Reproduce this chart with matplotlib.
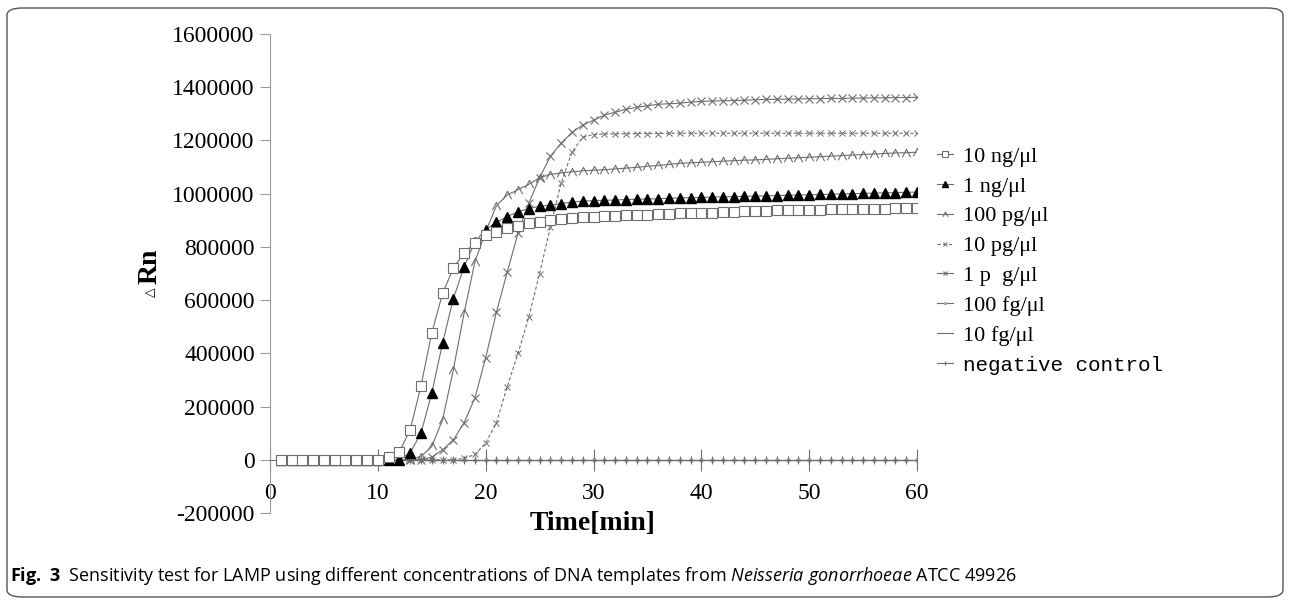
import matplotlib
matplotlib.use("Agg")
import matplotlib.pyplot as plt
from matplotlib.path import Path
from matplotlib.patches import FancyBboxPatch

# time axis (minutes)
TIME = list(range(1, 61))

# delta Rn, one value per minute
NG10 = [0, 0, 0, 0, 0, 0, 0, 0, 0, 0,
        10000, 31000, 112000, 278000, 476000, 625000, 720000, 778000, 814000, 844000,
        856000, 870000, 880000, 889000, 893000, 900000, 903000, 907000, 911000, 913000,
        915000, 917000, 918000, 919000, 921000, 922000, 924000, 926000, 927000, 928000,
        929000, 930000, 931000, 933000, 934000, 935000, 937000, 938000, 939000, 940000,
        940000, 941000, 942000, 943000, 943000, 944000, 944000, 945000, 945000, 946000]
NG1 = [0, 0, 0, 0, 0, 0, 0, 0, 0, 0,
       0, 0, 26000, 100000, 250000, 438000, 605000, 725000, 819000, 865000,
       893000, 914000, 932000, 944000, 953000, 957000, 963000, 968000, 972000, 974000,
       975000, 976000, 978000, 979000, 980000, 981000, 983000, 984000, 985000, 986000,
       987000, 988000, 989000, 990000, 991000, 992000, 993000, 994000, 995000, 996000,
       997000, 998000, 999000, 1000000, 1001000, 1002000, 1003000, 1004000, 1005000, 1006000]
PG100 = [0, 0, 0, 0, 0, 0, 0, 0, 0, 0,
         0, 0, 0, 12000, 50000, 150000, 338000, 551000, 744000, 857000,
         955000, 995000, 1015000, 1035000, 1060000, 1072000, 1078000, 1082000, 1086000, 1088000,
         1090000, 1093000, 1096000, 1099000, 1103000, 1106000, 1110000, 1114000, 1116000, 1118000,
         1120000, 1122000, 1124000, 1126000, 1127000, 1129000, 1131000, 1133000, 1135000, 1137000,
         1139000, 1141000, 1143000, 1145000, 1147000, 1149000, 1151000, 1153000, 1154000, 1156000]
PG10 = [0, 0, 0, 0, 0, 0, 0, 0, 0, 0,
        0, 0, 0, 0, 0, 0, 0, 5000, 20000, 63000,
        139000, 275000, 400000, 537000, 700000, 874000, 1040000, 1156000, 1212000, 1222000,
        1224000, 1225000, 1225000, 1226000, 1226000, 1226000, 1227000, 1227000, 1227000, 1227000,
        1227000, 1227000, 1227000, 1227000, 1227000, 1227000, 1227000, 1227000, 1227000, 1227000,
        1227000, 1227000, 1227000, 1227000, 1227000, 1227000, 1227000, 1227000, 1227000, 1227000]
PG1 = [0, 0, 0, 0, 0, 0, 0, 0, 0, 0,
       0, 0, 0, 0, 10000, 37000, 75000, 139000, 232000, 383000,
       555000, 705000, 852000, 964000, 1060000, 1140000, 1190000, 1230000, 1258000, 1276000,
       1295000, 1306000, 1317000, 1325000, 1330000, 1336000, 1338000, 1340000, 1344000, 1347000,
       1348000, 1349000, 1350000, 1351000, 1353000, 1354000, 1355000, 1355000, 1356000, 1357000,
       1357000, 1358000, 1358000, 1359000, 1359000, 1360000, 1360000, 1361000, 1361000, 1362000]
FG100 = [0, 0, 0, 0, 0, 0, 0, 0, 0, 0, 0, 0, 0, 0, 0, 0, 0, 0, 0, 0,
         0, 0, 0, 0, 0, 0, 0, 0, 0, 0, 0, 0, 0, 0, 0, 0, 0, 0, 0, 0,
         0, 0, 0, 0, 0, 0, 0, 0, 0, 0, 0, 0, 0, 0, 0, 0, 0, 0, 0, 0]
FG10 = [0, 0, 0, 0, 0, 0, 0, 0, 0, 0, 0, 0, 0, 0, 0, 0, 0, 0, 0, 0,
        0, 0, 0, 0, 0, 0, 0, 0, 0, 0, 0, 0, 0, 0, 0, 0, 0, 0, 0, 0,
        0, 0, 0, 0, 0, 0, 0, 0, 0, 0, 0, 0, 0, 0, 0, 0, 0, 0, 0, 0]
NEG = [0, 0, 0, 0, 0, 0, 0, 0, 0, 0, 0, 0, 0, 0, 0, 0, 0, 0, 0, 0,
       0, 0, 0, 0, 0, 0, 0, 0, 0, 0, 0, 0, 0, 0, 0, 0, 0, 0, 0, 0,
       0, 0, 0, 0, 0, 0, 0, 0, 0, 0, 0, 0, 0, 0, 0, 0, 0, 0, 0, 0]

LABELS = ["10 ng/\u03bcl", "1 ng/\u03bcl", "100 pg/\u03bcl", "10 pg/\u03bcl",
          "1 p  g/\u03bcl", "100 fg/\u03bcl", "10 fg/\u03bcl", "negative control"]
X_TICKS = [0, 10, 20, 30, 40, 50, 60]
Y_TICKS = [-200000, 0, 200000, 400000, 600000, 800000, 1000000, 1200000, 1400000, 1600000]

W, H = 1290, 601
plt.rcParams["font.family"] = ["Liberation Serif", "DejaVu Serif"]
plt.rcParams["mathtext.fontset"] = "custom"
plt.rcParams["mathtext.rm"] = "Open Sans"
plt.rcParams["mathtext.it"] = "Open Sans:italic"
plt.rcParams["mathtext.bf"] = "Open Sans:bold"

fig = plt.figure(figsize=(W / 100, H / 100), dpi=100)
ax = fig.add_axes([270 / W, 1 - 513 / H, (917 - 270) / W, (513 - 34) / H])

GRAY = "#6e6e6e"
caret = Path([(-1, -0.9), (0, 1), (1, -0.9)], [Path.MOVETO, Path.LINETO, Path.LINETO])
kw = dict(color=GRAY, lw=0.8)

ax.plot(TIME, FG100, marker="o", ms=2.5, mfc="white", mec=GRAY, mew=0.5,
        label=LABELS[5], zorder=2, **kw)
ax.plot(TIME, FG10, label=LABELS[6], zorder=2, **kw)
ax.plot(TIME, NEG, marker="|", ms=6, mew=0.8, label=LABELS[7], zorder=2, **kw)
ax.plot(TIME, PG1, marker="x", ms=6, mew=0.8, label=LABELS[4], zorder=3, **kw)
ax.plot(TIME, PG10, marker="x", ms=5, mew=0.7, ls=(0, (3, 2)), label=LABELS[3], zorder=3, **kw)
ax.plot(TIME, PG100, marker=caret, ms=6, mfc="none", mec=GRAY, mew=0.8,
        label=LABELS[2], zorder=3, **kw)
ax.plot(TIME, NG1, marker="^", ms=6.5, mfc="black", mec="black", label=LABELS[1], zorder=4, **kw)
ax.plot(TIME, NG10, marker="s", ms=7.5, mfc="white", mec=GRAY, mew=0.8,
        label=LABELS[0], zorder=4, **kw)

ax.set_xlim(0, 60)
ax.set_ylim(-200000, 1600000)
ax.set_xticks(X_TICKS)
ax.set_yticks(Y_TICKS)
ax.set_yticklabels([str(v) for v in Y_TICKS])
for s in ("top", "right"):
    ax.spines[s].set_visible(False)
ax.spines["bottom"].set_position(("data", 0))
ax.spines["bottom"].set_color(GRAY)
ax.spines["bottom"].set_linewidth(0.8)
ax.spines["left"].set_color("#9a9a9a")
ax.spines["left"].set_linewidth(0.8)
ax.tick_params(axis="y", direction="out", length=7, width=0.8, color="#9a9a9a",
               labelsize=17, pad=4)
ax.tick_params(axis="x", direction="inout", length=16, width=0.8, color=GRAY,
               labelsize=17, pad=9)

fig.text(593 / W, 1 - 524 / H, "Time[min]", ha="center", va="center",
         fontsize=20, fontweight="bold")
fig.text(150 / W, 1 - 266 / H, "Rn", ha="center", va="center", rotation=90,
         fontsize=20, fontweight="bold")
fig.text(151 / W, 1 - 292 / H, "\u25b3", ha="center", va="center", rotation=90,
         fontsize=9, family="DejaVu Sans")

handles, labels = ax.get_legend_handles_labels()
order = [7, 6, 5, 4, 3, 0, 1, 2]
leg = ax.legend([handles[i] for i in order], [labels[i] for i in order], loc="upper left",
                bbox_to_anchor=(926 / W, 1 - 135 / H), bbox_transform=fig.transFigure,
                frameon=False, fontsize=16, handlelength=0.7, handletextpad=0.45,
                labelspacing=0.42, markerscale=0.6, borderpad=0)
leg.get_texts()[-1].set_fontfamily("Liberation Mono")
leg.get_texts()[-1].set_fontsize(15)

fig.text(10 / W, 1 - 576 / H,
         r"$\mathbf{Fig.\ 3}$  Sensitivity test for LAMP using different concentrations of DNA "
         r"templates from $\mathit{Neisseria\ gonorrhoeae}$ ATCC 49926",
         ha="left", va="center", fontsize=13, family="Open Sans")

frame = FancyBboxPatch((7 / W, 1 - 597 / H), (1283 - 7) / W, (597 - 8) / H,
                       boxstyle="round,pad=0,rounding_size=0.012",
                       transform=fig.transFigure, fill=False, ec="#555555", lw=1.0)
fig.patches.append(frame)

fig.savefig("out.png", dpi=100)
